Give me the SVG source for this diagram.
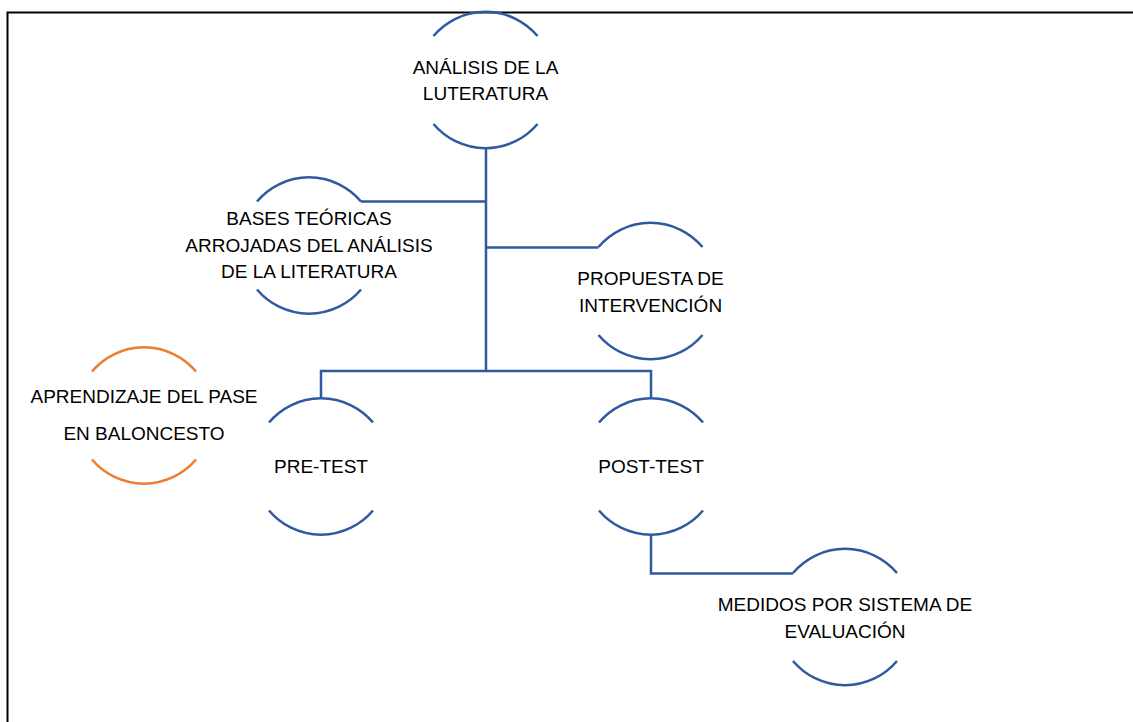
<svg xmlns="http://www.w3.org/2000/svg" width="1133" height="722" viewBox="0 0 1133 722">
<style>
.arc{fill:none;stroke:#2F5AA0;stroke-width:2.5}
.arc.o{stroke:#ED7D31}
.con{fill:none;stroke:#2F5AA0;stroke-width:2.5}
text{font-family:"Liberation Sans",Arial,sans-serif;font-size:19px;fill:#000;text-anchor:middle}
</style>
<rect width="1133" height="722" fill="#fff"/>
<path d="M7.5 722 V12.5 H1133" fill="none" stroke="#000" stroke-width="2"/>
<g id="connectors">
<path class="con" d="M486 148 V371"/>
<path class="con" d="M361 201.5 H486"/>
<path class="con" d="M486 247.5 H598.5"/>
<path class="con" d="M321 398.5 V371 H651 V398.5"/>
<path class="con" d="M651 535 V573.5 H793"/>
</g>
<g id="n-analisis">
<path class="arc" d="M433.5 36 A68 68 0 0 1 537.5 36"/>
<path class="arc" d="M433.5 124 A68 68 0 0 0 537.5 124"/>
<text x="485.5" y="74">ANÁLISIS DE LA</text>
<text x="485.5" y="100">LUTERATURA</text>
</g>
<g id="n-bases">
<path class="arc" d="M257 201.5 A68 68 0 0 1 361 201.5"/>
<path class="arc" d="M257 289.5 A68 68 0 0 0 361 289.5"/>
<text x="309" y="225">BASES TEÓRICAS</text>
<text x="309" y="251.5">ARROJADAS DEL ANÁLISIS</text>
<text x="309" y="278">DE LA LITERATURA</text>
</g>
<g id="n-propuesta">
<path class="arc" d="M598.5 247 A68 68 0 0 1 702.5 247"/>
<path class="arc" d="M598.5 335 A68 68 0 0 0 702.5 335"/>
<text x="650.5" y="285">PROPUESTA DE</text>
<text x="650.5" y="311.5">INTERVENCIÓN</text>
</g>
<g id="n-aprendizaje">
<path class="arc o" d="M92 371.5 A68 68 0 0 1 196 371.5"/>
<path class="arc o" d="M92 459.5 A68 68 0 0 0 196 459.5"/>
<text x="144" y="403">APRENDIZAJE DEL PASE</text>
<text x="144" y="440">EN BALONCESTO</text>
</g>
<g id="n-pretest">
<path class="arc" d="M269 422.5 A68 68 0 0 1 373 422.5"/>
<path class="arc" d="M269 510.5 A68 68 0 0 0 373 510.5"/>
<text x="321" y="473">PRE-TEST</text>
</g>
<g id="n-posttest">
<path class="arc" d="M599 422.5 A68 68 0 0 1 703 422.5"/>
<path class="arc" d="M599 510.5 A68 68 0 0 0 703 510.5"/>
<text x="651" y="473">POST-TEST</text>
</g>
<g id="n-medidos">
<path class="arc" d="M793 573 A68 68 0 0 1 897 573"/>
<path class="arc" d="M793 661 A68 68 0 0 0 897 661"/>
<text x="845" y="611">MEDIDOS POR SISTEMA DE</text>
<text x="845" y="638">EVALUACIÓN</text>
</g>
</svg>
